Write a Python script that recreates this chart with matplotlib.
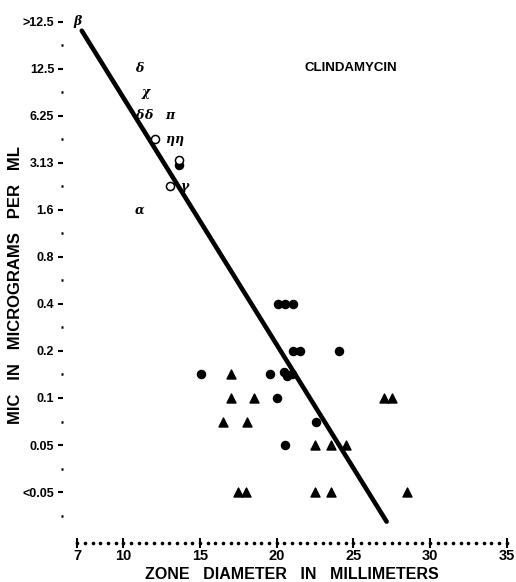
import numpy as np
import matplotlib
matplotlib.use("Agg")
import matplotlib.pyplot as plt

plt.rcParams['font.family'] = ['Liberation Sans', 'DejaVu Sans']
plt.rcParams['font.weight'] = 'bold'

# MIC levels are plotted on a dilution index (2 steps per two-fold dilution)
mic_labels = ['<0.05', '0.05', '0.1', '0.2', '0.4', '0.8', '1.6', '3.13', '6.25', '12.5', '>12.5']
mic_index = [0, 2, 4, 6, 8, 10, 12, 14, 16, 18, 20]
minor_index = [-1, 1, 3, 5, 7, 9, 11, 13, 15, 17, 19]
zone_ticks = [7, 10, 15, 20, 25, 30, 35]

# filled circles
dot_zone = [20.1, 20.54, 21.08, 21.08, 21.52, 24.06, 15.05, 19.56, 20.5, 20.65, 21.0,
            20.04, 22.54, 20.54, 13.6]
dot_mic = [8, 8, 8, 6, 6, 6, 5, 5, 5.1, 4.95, 5, 4, 3, 2, 13.9]

# triangles
tri_zone = [17.02, 17.0, 18.52, 27.0, 27.5, 16.52, 18.04, 22.5, 23.52, 24.5,
            17.5, 18.0, 22.5, 23.52, 28.47]
tri_mic = [5, 4, 4, 4, 4, 3, 3, 2, 2, 2, 0, 0, 0, 0, 0]

# open circles
ring_zone = [12.07, 13.6, 13.05]
ring_mic = [15, 14.13, 13]

# strains marked by letters
sym_text = ['β', 'δ', 'χ', 'δ', 'δ', 'π', 'η', 'η', 'γ', 'α']
sym_zone = [7.0, 11.04, 11.5, 11.05, 11.62, 13.05, 13.0, 13.62, 14.02, 11.04]
sym_mic = [20, 18, 17, 16, 16, 16, 15, 15, 13, 12]

# regression line
fit_zone = [7.29, 27.17]
fit_mic = [19.63, -1.26]

fig = plt.figure(figsize=(5.16, 5.82), dpi=100)
W, H = 516, 582
ax = fig.add_axes([77.3 / W, (H - 543) / H, (506.7 - 77.3) / W, (543 - 10) / H])
ax.set_xlim(7, 35)
ax.set_ylim(-2.17, 20.51)

ax.plot(fit_zone, fit_mic, color='black', lw=3.3, solid_capstyle='round', zorder=3)
ax.scatter(dot_zone, dot_mic, s=34, color='black', marker='o', zorder=4, clip_on=False)
ax.scatter(tri_zone, tri_mic, s=42, color='black', marker='^', zorder=4, clip_on=False)
ax.scatter(ring_zone, ring_mic, s=34, facecolor='white', edgecolor='black',
           linewidths=1.1, marker='o', zorder=5, clip_on=False)
for t, xz, ym in zip(sym_text, sym_zone, sym_mic):
    ax.text(xz, ym, t, family='DejaVu Serif', style='italic', weight='bold',
            fontsize=9, ha='center', va='center', zorder=6)

ax.text(0.637, 0.891, 'CLINDAMYCIN', transform=ax.transAxes, fontsize=9.5,
        fontweight='bold', ha='center', va='center')

for s in ['top', 'right', 'bottom']:
    ax.spines[s].set_visible(False)
ax.spines['left'].set_position(('outward', 10))
ax.spines['left'].set_visible(False)

ax.set_yticks(mic_index)
ax.set_yticklabels(mic_labels, fontsize=9, fontweight='bold')
ax.set_yticks(minor_index, minor=True)
ax.tick_params(axis='y', which='major', length=3.6, width=1.5, pad=3)
ax.tick_params(axis='y', which='minor', length=1.5, width=1.8)

# dotted zone-diameter axis
dots = np.arange(7, 35.01, 0.5)
ax.plot(dots, np.zeros_like(dots), ls='none', marker='o', ms=1.6, color='black',
        transform=ax.get_xaxis_transform(), clip_on=False)
ax.set_xticks(zone_ticks)
ax.set_xticklabels([str(v) for v in zone_ticks], fontsize=10.5, fontweight='bold')
ax.tick_params(axis='x', which='major', direction='inout', length=7, width=1.5, pad=1)

ax.set_xlabel('ZONE   DIAMETER   IN   MILLIMETERS', fontsize=11.5, fontweight='bold',
              labelpad=3)
fig.text(16 / W, 1 - 285 / H, 'MIC   IN   MICROGRAMS   PER   ML', rotation=90,
         fontsize=12, fontweight='bold', ha='center', va='center')

fig.savefig('out.png', dpi=100)
